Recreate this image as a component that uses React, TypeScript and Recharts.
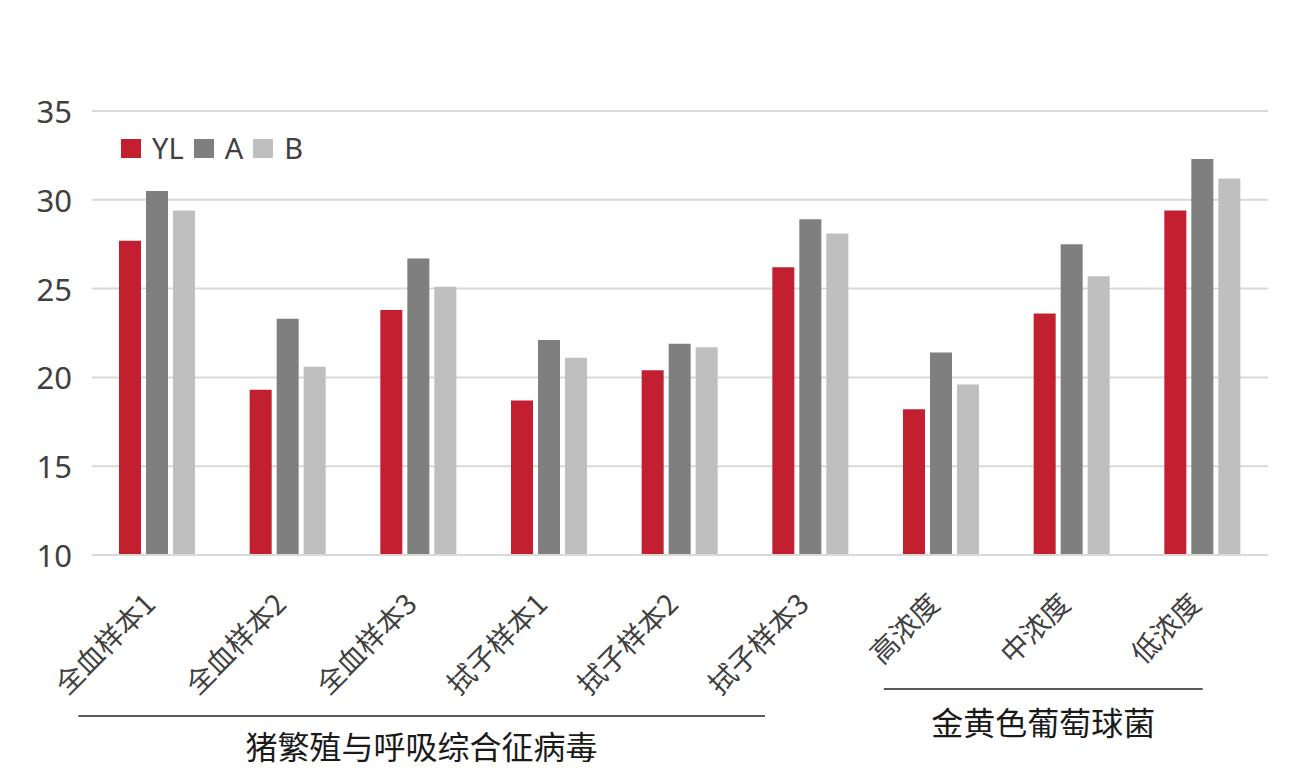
import React from 'react';
import { BarChart, Bar, XAxis, YAxis, CartesianGrid } from 'recharts';

const categories = ['全血样本1', '全血样本2', '全血样本3', '拭子样本1', '拭子样本2', '拭子样本3', '高浓度', '中浓度', '低浓度'];
const ylValues = [27.7, 19.3, 23.8, 18.7, 20.4, 26.2, 18.2, 23.6, 29.4];
const aValues = [30.5, 23.3, 26.7, 22.1, 21.9, 28.9, 21.4, 27.5, 32.3];
const bValues = [29.4, 20.6, 25.1, 21.1, 21.7, 28.1, 19.6, 25.7, 31.2];
const yTicks = [10, 15, 20, 25, 30, 35];
const groups = [
  { name: '猪繁殖与呼吸综合征病毒', first: 0, last: 5 },
  { name: '金黄色葡萄球菌', first: 6, last: 8 },
];

const seriesList = [
  { key: 'YL', values: ylValues, color: '#C21F30' },
  { key: 'A', values: aValues, color: '#7F7F7F' },
  { key: 'B', values: bValues, color: '#BFBFBF' },
];

const data = categories.map((c, i) => {
  const row: any = { name: c };
  seriesList.forEach((s) => (row[s.key] = s.values[i]));
  return row;
});

const W = 1306;
const H = 775;
const margin = { top: 111, right: 38, bottom: 0, left: 0 };
const Y_W = 92;
const X_H = 220;
const band = (W - margin.left - margin.right - Y_W) / categories.length;

const FONT = '"Noto Sans", "Noto Sans CJK SC", sans-serif';
const CJK = '"Noto Sans CJK SC", "Noto Sans", sans-serif';

const YTick = (props: any) => {
  const { y, payload } = props;
  return (
    <text x={72} y={y} textAnchor="end" dominantBaseline="central" fontSize={31} fill="#404040" fontFamily={FONT}>
      {payload.value}
    </text>
  );
};

const XTick = (props: any) => {
  const { x, y, payload } = props;
  const idx = categories.indexOf(payload.value);
  const ty = y + 51;
  const g = groups.find((gg) => gg.first === idx);
  let extra = null;
  if (g) {
    const startCenter = x;
    const endCenter = x + (g.last - g.first) * band;
    const isFirst = g.first === 0;
    const x1 = isFirst ? startCenter - 0.605 * band : startCenter - 0.44 * band;
    const x2 = isFirst ? endCenter - 0.35 * band : endCenter;
    const ly = isFirst ? y + 161 : y + 134;
    const tyl = isFirst ? y + 190 : y + 166;
    extra = (
      <g>
        <line x1={x1} x2={x2} y1={ly} y2={ly} stroke="#595959" strokeWidth={2} />
        <text x={(x1 + x2) / 2} y={tyl} textAnchor="middle" dominantBaseline="central" fontSize={32} fill="#1a1a1a" fontFamily={CJK}>
          {g.name}
        </text>
      </g>
    );
  }
  return (
    <g>
      <text x={x} y={ty} textAnchor="end" fontSize={28} fill="#404040" fontFamily={CJK} transform={`rotate(-45, ${x}, ${ty})`}>
        {payload.value}
      </text>
      {extra}
    </g>
  );
};

const LegendOverlay = () => (
  <div
    style={{
      position: 'absolute',
      left: 121,
      top: 133,
      display: 'flex',
      alignItems: 'center',
      fontFamily: FONT,
      fontSize: 29,
      color: '#404040',
      lineHeight: '30px',
    }}
  >
    {seriesList.map((s) => (
      <div key={s.key} style={{ display: 'flex', alignItems: 'center', marginRight: 10 }}>
        <div style={{ width: 20, height: 19, background: s.color, marginRight: 11 }} />
        <span>{s.key}</span>
      </div>
    ))}
  </div>
);

export default function App() {
  return (
    <div style={{ position: 'absolute', left: 0, top: 0, width: W, height: H, background: '#fff' }}>
      <BarChart width={W} height={H} data={data} margin={margin} barSize={22} barGap={5}>
        <CartesianGrid vertical={false} stroke="#D9D9D9" strokeWidth={2} />
        <YAxis
          width={Y_W}
          domain={[10, 35]}
          ticks={yTicks}
          axisLine={false}
          tickLine={false}
          tick={<YTick />}
          allowDataOverflow
        />
        <XAxis
          dataKey="name"
          height={X_H}
          axisLine={{ stroke: '#D9D9D9', strokeWidth: 2 }}
          tickLine={false}
          tickSize={0}
          tickMargin={0}
          interval={0}
          tick={<XTick />}
        />
        {seriesList.map((s) => (
          <Bar key={s.key} dataKey={s.key} fill={s.color} isAnimationActive={false} />
        ))}
      </BarChart>
      <LegendOverlay />
    </div>
  );
}
